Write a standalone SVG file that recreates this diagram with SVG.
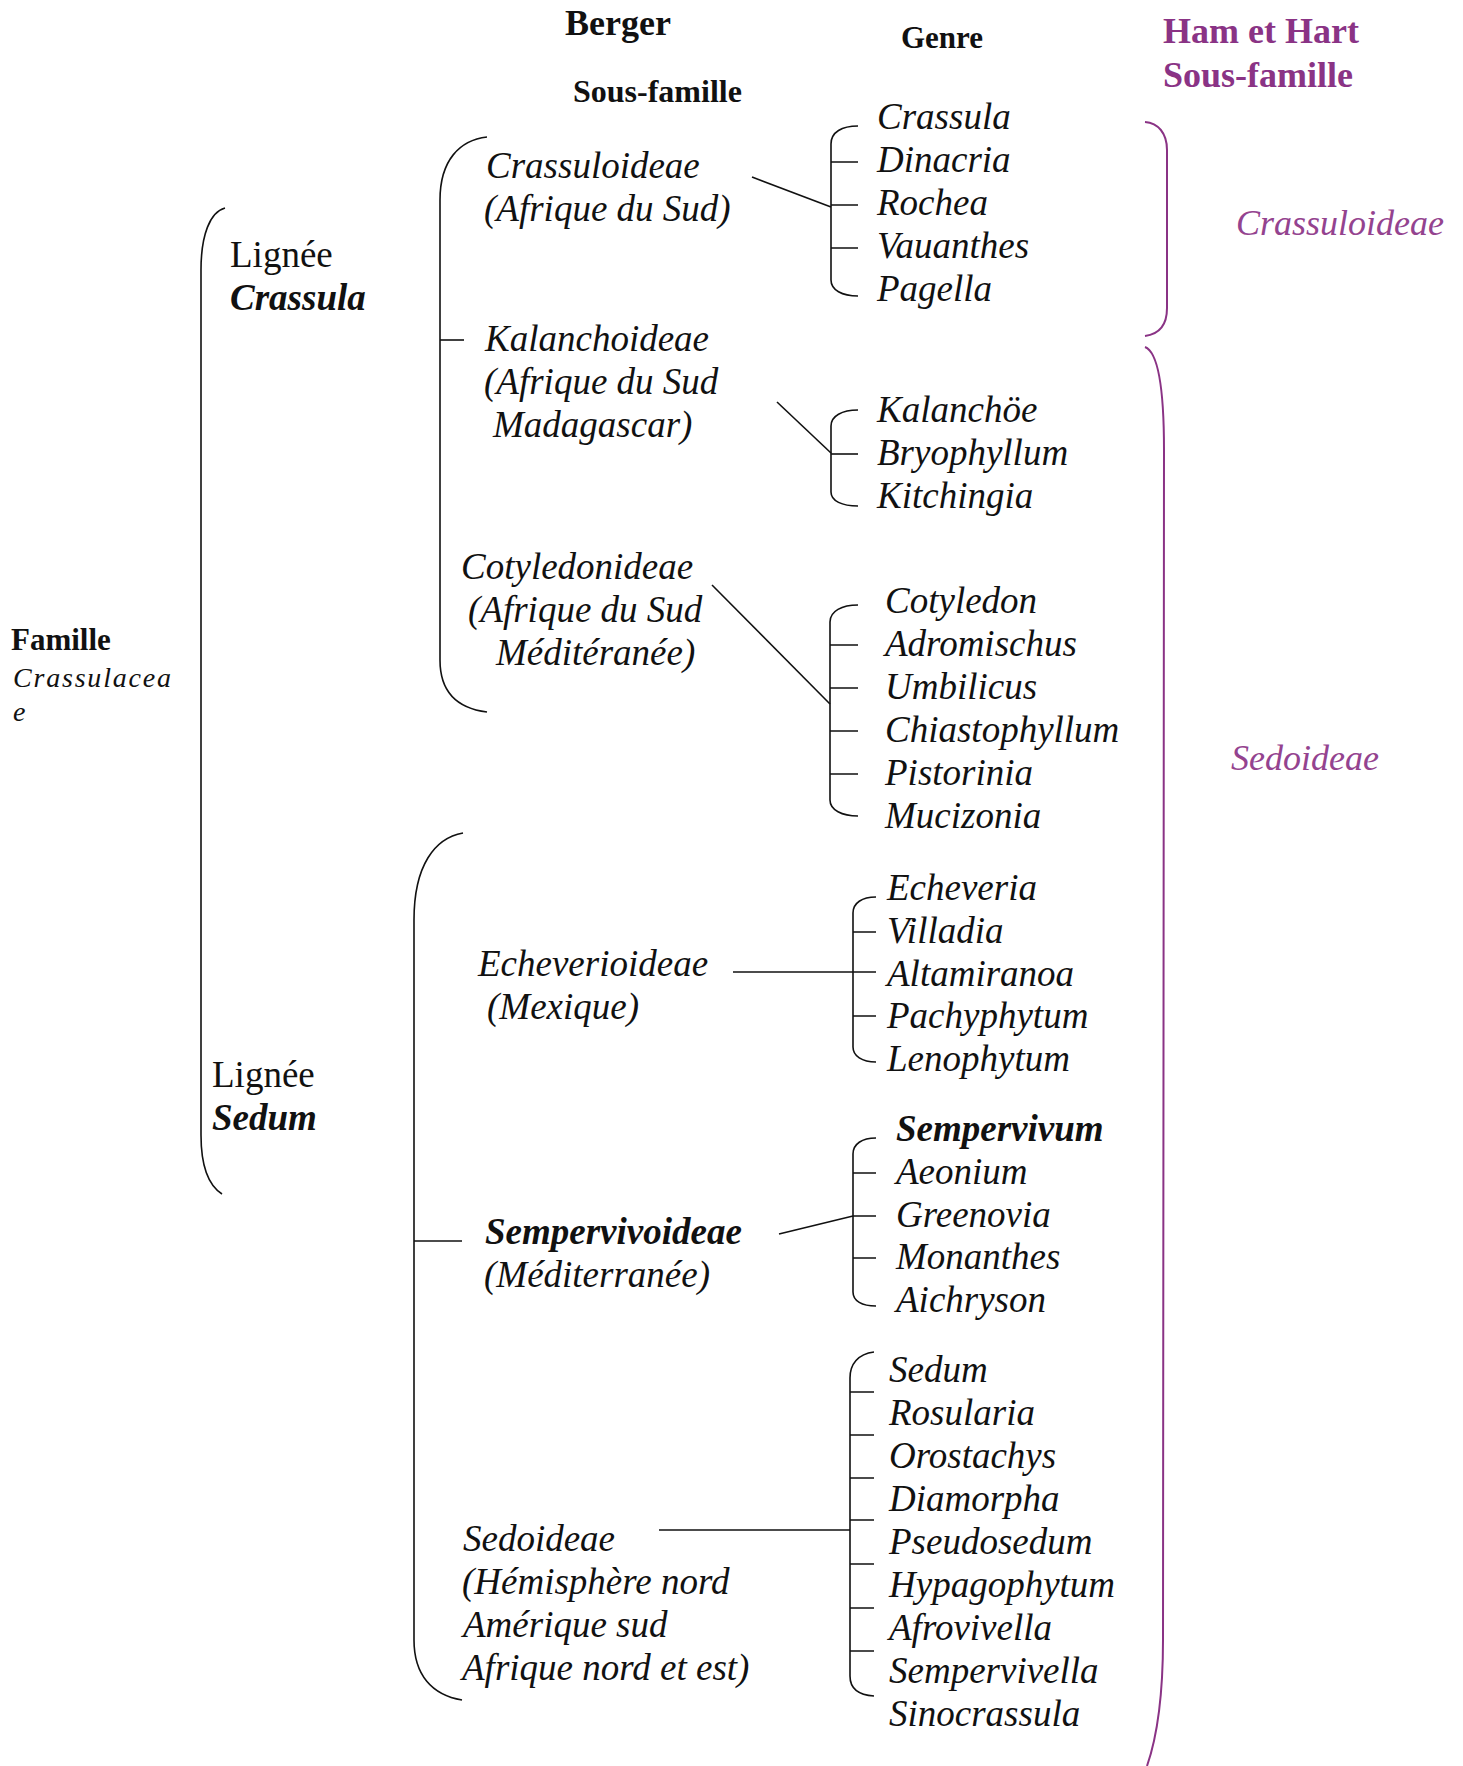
<svg xmlns="http://www.w3.org/2000/svg" width="1463" height="1766" viewBox="0 0 1463 1766">
<style>
text{font-family:"Liberation Serif","Times New Roman",serif;fill:#111}
.h{font-weight:bold}
.i{font-style:italic;font-size:37px}
.bi{font-style:italic;font-weight:bold;font-size:37px}
.r{font-size:37px}
.p{fill:#8a3385}
.pi{fill:#94438f;font-style:italic;font-size:36px}
.ln{fill:none;stroke:#111;stroke-width:1.6}
.pl{fill:none;stroke:#8a3385;stroke-width:2}
</style>
<rect width="1463" height="1766" fill="#fff"/>
<g id="headers">
<text class="h" x="565" y="35" font-size="36">Berger</text>
<text class="h" x="573" y="102" font-size="32">Sous-famille</text>
<text class="h" x="901" y="48" font-size="31">Genre</text>
<text class="h p" x="1163" y="43" font-size="36">Ham et Hart</text>
<text class="h p" x="1163" y="87" font-size="36">Sous-famille</text>
</g>
<g id="famille">
<text class="h" x="11" y="650" font-size="31">Famille</text>
<text x="13" y="687" font-size="28" font-style="italic" letter-spacing="1.8">Crassulacea</text>
<text x="13" y="721" font-size="28" font-style="italic">e</text>
</g>
<g id="lignee-crassula">
<text class="r" x="230" y="267">Lignée</text>
<text class="bi" x="230" y="310">Crassula</text>
</g>
<g id="lignee-sedum">
<text class="r" x="212" y="1087">Lignée</text>
<text class="bi" x="212" y="1130">Sedum</text>
</g>
<g id="crassuloideae">
<text class="i" x="486" y="178">Crassuloideae</text>
<text class="i" x="484" y="221">(Afrique du Sud)</text>
</g>
<g id="kalanchoideae">
<text class="i" x="485" y="351">Kalanchoideae</text>
<text class="i" x="484" y="394">(Afrique du Sud</text>
<text class="i" x="493" y="437">Madagascar)</text>
</g>
<g id="cotyledonideae">
<text class="i" x="461" y="579">Cotyledonideae</text>
<text class="i" x="468" y="622">(Afrique du Sud</text>
<text class="i" x="496" y="665">Méditéranée)</text>
</g>
<g id="echeverioideae">
<text class="i" x="478" y="976">Echeverioideae</text>
<text class="i" x="487" y="1019">(Mexique)</text>
</g>
<g id="sempervivoideae">
<text class="bi" x="485" y="1244" font-size="36">Sempervivoideae</text>
<text class="i" x="484" y="1287">(Méditerranée)</text>
</g>
<g id="sedoideae">
<text class="i" x="463" y="1551">Sedoideae</text>
<text class="i" x="462" y="1594">(Hémisphère nord</text>
<text class="i" x="463" y="1637">Amérique sud</text>
<text class="i" x="462" y="1680">Afrique nord et est)</text>
</g>
<g id="genres-crassuloideae">
<text class="i" x="877" y="129">Crassula</text>
<text class="i" x="877" y="172">Dinacria</text>
<text class="i" x="877" y="215">Rochea</text>
<text class="i" x="877" y="258">Vauanthes</text>
<text class="i" x="877" y="301">Pagella</text>
</g>
<g id="genres-kalanchoideae">
<text class="i" x="877" y="422">Kalanchöe</text>
<text class="i" x="877" y="465">Bryophyllum</text>
<text class="i" x="877" y="508">Kitchingia</text>
</g>
<g id="genres-cotyledonideae">
<text class="i" x="885" y="613">Cotyledon</text>
<text class="i" x="885" y="656">Adromischus</text>
<text class="i" x="885" y="699">Umbilicus</text>
<text class="i" x="885" y="742">Chiastophyllum</text>
<text class="i" x="885" y="785">Pistorinia</text>
<text class="i" x="885" y="828">Mucizonia</text>
</g>
<g id="genres-echeverioideae">
<text class="i" x="887" y="900">Echeveria</text>
<text class="i" x="887" y="943">Villadia</text>
<text class="i" x="887" y="986">Altamiranoa</text>
<text class="i" x="887" y="1028">Pachyphytum</text>
<text class="i" x="887" y="1071">Lenophytum</text>
</g>
<g id="genres-sempervivoideae">
<text class="bi" x="896" y="1141" font-size="36">Sempervivum</text>
<text class="i" x="896" y="1184">Aeonium</text>
<text class="i" x="896" y="1227">Greenovia</text>
<text class="i" x="896" y="1269">Monanthes</text>
<text class="i" x="896" y="1312">Aichryson</text>
</g>
<g id="genres-sedoideae">
<text class="i" x="889" y="1382">Sedum</text>
<text class="i" x="889" y="1425">Rosularia</text>
<text class="i" x="889" y="1468">Orostachys</text>
<text class="i" x="889" y="1511">Diamorpha</text>
<text class="i" x="889" y="1554">Pseudosedum</text>
<text class="i" x="889" y="1597">Hypagophytum</text>
<text class="i" x="889" y="1640">Afrovivella</text>
<text class="i" x="889" y="1683">Sempervivella</text>
<text class="i" x="889" y="1726">Sinocrassula</text>
</g>
<g id="ham-hart-crassuloideae">
<text class="pi" x="1236" y="235">Crassuloideae</text>
</g>
<g id="ham-hart-sedoideae">
<text class="pi" x="1231" y="770">Sedoideae</text>
</g>
<g id="connectors">
<path class="ln" d="M225,208 C210,212 201,235 201,270 L201,1135 C201,1165 208,1185 222,1194"/>
<path class="ln" d="M487,137 C460,140 440,160 440,200 L440,660 C440,690 455,708 487,712"/>
<path class="ln" d="M440,340 H464"/>
<path class="ln" d="M463,833 C435,838 414,865 414,920 L414,1640 C414,1675 432,1695 462,1700"/>
<path class="ln" d="M414,1241 H462"/>
<path class="ln" d="M858,126 C842,126 831,132 831,144 L831,280 C831,290 842,296 858,296"/>
<path class="ln" d="M831,162 H858 M831,205 H858 M831,248 H858"/>
<path class="ln" d="M752,177 L831,207"/>
<path class="ln" d="M858,410 C842,410 831,416 831,426 L831,492 C831,501 842,506 858,506"/>
<path class="ln" d="M831,454 H858"/>
<path class="ln" d="M777,402 L831,453"/>
<path class="ln" d="M858,605 C842,605 830,611 830,622 L830,800 C830,810 842,816 858,816"/>
<path class="ln" d="M830,645 H858 M830,688 H858 M830,731 H858 M830,774 H858"/>
<path class="ln" d="M712,585 L830,704"/>
<path class="ln" d="M876,897 C862,897 853,903 853,913 L853,1047 C853,1056 862,1062 876,1062"/>
<path class="ln" d="M853,932 H876 M853,972 H876 M853,1016 H876"/>
<path class="ln" d="M733,972 H853"/>
<path class="ln" d="M876,1138 C862,1138 853,1144 853,1154 L853,1292 C853,1301 862,1306 876,1306"/>
<path class="ln" d="M853,1173 H876 M853,1216 H876 M853,1258 H876"/>
<path class="ln" d="M779,1234 L853,1216"/>
<path class="ln" d="M874,1352 C858,1354 850,1364 850,1378 L850,1676 C850,1688 858,1695 874,1696"/>
<path class="ln" d="M850,1392 H874 M850,1435 H874 M850,1478 H874 M850,1520 H874 M850,1564 H874 M850,1608 H874 M850,1651 H874"/>
<path class="ln" d="M659,1530 H850"/>
<path class="pl" d="M1145,122 C1158,123 1167,133 1167,150 L1167,308 C1167,325 1160,334 1145,336"/>
<path class="pl" d="M1145,347 C1158,352 1164,390 1164,450 L1163,1640 C1163,1700 1156,1740 1147,1766"/>
</g>
</svg>
